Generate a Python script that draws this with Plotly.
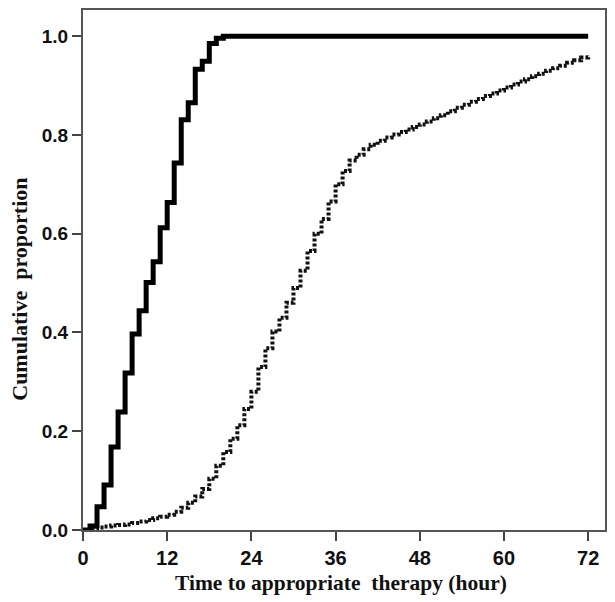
import plotly.graph_objects as go

# Solid curve (hourly cumulative proportion)
solid_hours = [0, 1, 2, 3, 4, 5, 6, 7, 8, 9, 10, 11, 12, 13, 14, 15, 16, 17, 18, 19, 20, 72]
solid_values = [0.0, 0.008, 0.047, 0.091, 0.168, 0.239, 0.318, 0.397, 0.444, 0.501, 0.543,
                0.612, 0.663, 0.743, 0.831, 0.865, 0.933, 0.949, 0.985, 0.996, 1.0, 1.0]

# Dotted curve (hourly cumulative proportion)
dotted_hours = list(range(0, 73))
dotted_values = [0.0, 0.003, 0.005, 0.007, 0.009, 0.010, 0.011, 0.014, 0.017, 0.020, 0.024,
                 0.027, 0.031, 0.037, 0.045, 0.055, 0.068, 0.083, 0.104, 0.130, 0.158,
                 0.185, 0.212, 0.245, 0.280, 0.330, 0.368, 0.402, 0.430, 0.460, 0.490,
                 0.525, 0.565, 0.600, 0.630, 0.665, 0.700, 0.727, 0.748, 0.760, 0.771,
                 0.780, 0.788, 0.795, 0.801, 0.806, 0.811, 0.816, 0.821, 0.827, 0.834,
                 0.840, 0.848, 0.855, 0.861, 0.867, 0.873, 0.879, 0.884, 0.890, 0.896,
                 0.902, 0.908, 0.913, 0.919, 0.924, 0.930, 0.935, 0.940, 0.946, 0.951,
                 0.957, 0.962]

x_ticks = [0, 12, 24, 36, 48, 60, 72]
x_tick_labels = ["0", "12", "24", "36", "48", "60", "72"]
y_ticks = [0.0, 0.2, 0.4, 0.6, 0.8, 1.0]
y_tick_labels = ["0.0", "0.2", "0.4", "0.6", "0.8", "1.0"]

fig = go.Figure()
fig.add_trace(go.Scatter(x=dotted_hours, y=dotted_values, mode="lines",
                         line=dict(color="#111111", width=4, dash="3px,2px", shape="hv"),
                         showlegend=False))
fig.add_trace(go.Scatter(x=solid_hours, y=solid_values, mode="lines",
                         line=dict(color="#000000", width=5, shape="hv"),
                         showlegend=False))

fig.update_layout(
    width=615, height=602,
    margin=dict(l=83, r=9, t=8, b=72),
    plot_bgcolor="white", paper_bgcolor="white",
    xaxis=dict(range=[0, 74.4], tickvals=x_ticks,
               ticktext=["<b>%s</b>" % t for t in x_tick_labels],
               ticks="outside", ticklen=9, tickwidth=2,
               tickcolor="#444444", showline=True, linecolor="#555555", linewidth=2,
               mirror=True, showgrid=False, zeroline=False,
               tickfont=dict(family="Liberation Sans", size=20, color="#111111")),
    yaxis=dict(range=[0, 1.053], tickvals=y_ticks,
               ticktext=["<b>%s</b>" % t for t in y_tick_labels], ticks="outside",
               ticklen=9, tickwidth=2, tickcolor="#444444", showline=True,
               linecolor="#555555", linewidth=2, mirror=True, showgrid=False,
               zeroline=False,
               tickfont=dict(family="Liberation Sans", size=19, color="#111111")),
    annotations=[
        dict(text="<b>Time to appropriate  therapy (hour)</b>", xref="paper", yref="paper",
             x=0.495, y=0, yshift=-53, showarrow=False, xanchor="center", yanchor="middle",
             font=dict(family="Liberation Serif", size=21.5, color="#111111")),
        dict(text="<b>Cumulative  proportion</b>", xref="paper", yref="paper",
             x=0, xshift=-63, y=0.462, showarrow=False, textangle=-90,
             xanchor="center", yanchor="middle",
             font=dict(family="Liberation Serif", size=22, color="#111111")),
    ],
)
fig.write_html("out.html", config={"displayModeBar": False},
               post_script="document.body.style.margin='0px';")
